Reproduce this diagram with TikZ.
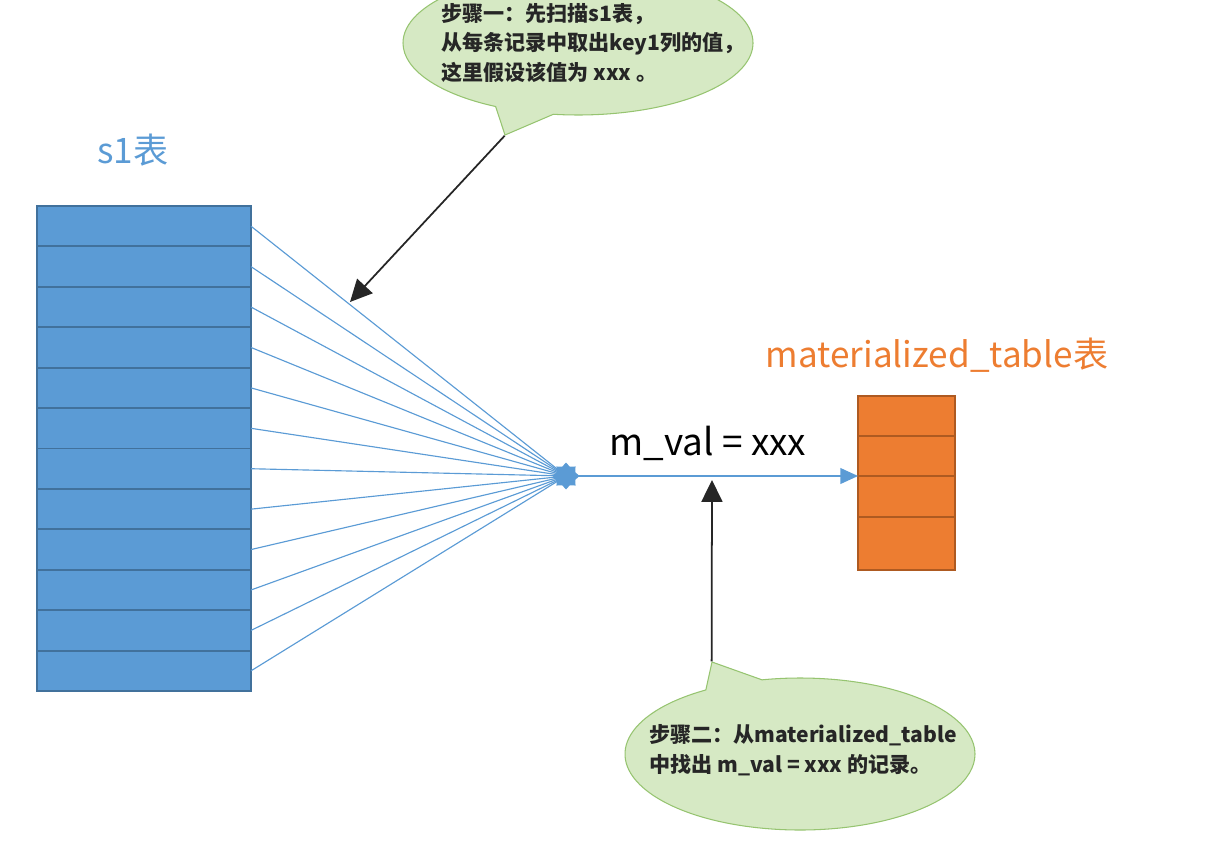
\documentclass[tikz,border=0pt]{standalone}
\usepackage{fontspec}
\setmainfont{Noto Sans CJK SC}
\usetikzlibrary{arrows.meta,shapes.geometric,shapes.callouts}

\newlength{\du}
\setlength{\du}{0.02cm}

\definecolor{tableblue}{RGB}{91,155,213}
\definecolor{tableblueline}{RGB}{65,113,156}
\definecolor{tableorange}{RGB}{237,125,49}
\definecolor{tableorangeline}{RGB}{174,90,33}
\definecolor{notefill}{RGB}{214,233,196}
\definecolor{noteline}{RGB}{150,196,112}

\tikzset{
  s1row/.style={draw=tableblueline, fill=tableblue, line width=1.1pt,
    minimum width=214\du, minimum height=40.42\du, inner sep=0pt, outer sep=0pt},
  mtrow/.style={draw=tableorangeline, fill=tableorange, line width=1.1pt,
    minimum width=97\du, inner sep=0pt, outer sep=0pt},
  hub/.style={star, star points=8, star point ratio=1.35, fill=tableblue,
    minimum size=27\du, inner sep=0pt},
  fanline/.style={draw=tableblue, line width=0.65pt},
  note/.style={ellipse callout, callout pointer arc=20, fill=notefill,
    draw=noteline, line width=0.6pt, inner sep=0pt},
  notetext/.style={align=left, font=\fontsize{12}{16.8}\selectfont\bfseries,
    text=black!85, inner sep=0pt},
  notearrow/.style={draw=black!85, line width=1pt,
    -{Triangle[length=12.5pt,width=12pt]}},
  bigtitle/.style={font=\fontsize{20}{24}\selectfont, inner sep=0pt}
}

\begin{document}
\begin{tikzpicture}[x=1\du, y=-1\du]
\useasboundingbox (0,0) rectangle (1220,848);

% s1 table
\foreach \i in {0,...,11}
  \node[s1row, anchor=north west] (r\i) at (37,{206+40.42*\i}) {};
\node[bigtitle, text=tableblue] (s1label) at (133,150) {s1表};

% materialized_table
\foreach \n/\y/\h in {1/396/40, 2/436/40, 3/476/41, 4/517/53}
  \node[mtrow, minimum height=\h\du, anchor=north west] (m\n) at (858,\y) {};
\node[bigtitle, text=tableorange] (mtlabel) at (937,355) {materialized\_table表};

% fan into the hub
\coordinate (hubc) at (566,476);
\foreach \i in {0,...,11}
  \draw[fanline] (r\i.east) -- (hubc);
\node[hub] (hub) at (hubc) {};
\draw[fanline, -{Triangle[length=10pt,width=9pt]}] (hub.center) -- (m3.north west);
\node[font=\fontsize{21}{25}\selectfont, inner sep=0pt] (mval) at (708,443) {m\_val = xxx};

% step one
\node[note, minimum width=350\du, minimum height=144\du,
  callout absolute pointer={(505,135)}] (step1) at (578,43) {};
\node[notetext] (step1text) at (593,43)
  {步骤一：先扫描s1表，\\从每条记录中取出key1列的值，\\这里假设该值为 xxx 。};
\coordinate (s1tip) at (350,302);
\draw[notearrow] (step1.pointer) -- (s1tip);

% step two
\node[note, minimum width=350\du, minimum height=152\du,
  callout absolute pointer={(712,662)}] (step2) at (800,754) {};
\node[notetext] (step2text) at (803,750)
  {步骤二：从materialized\_table\\中找出 m\_val = xxx 的记录。};
\coordinate (mvaltip) at (712,480);
\draw[notearrow] (step2.pointer) -- (mvaltip);
\end{tikzpicture}
\end{document}
